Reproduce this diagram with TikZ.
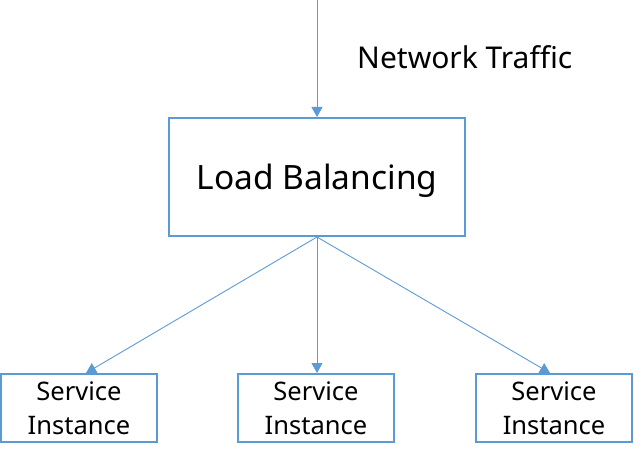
\documentclass[tikz,border=0pt]{standalone}
\usepackage{fontspec}
\setmainfont{Noto Sans}
\usetikzlibrary{arrows.meta}
\definecolor{lineblue}{HTML}{5B9BD5}
\begin{document}
\begin{tikzpicture}[x=1pt,y=-1pt,
  framestyle/.style={draw=lineblue,line width=2pt,inner sep=0pt,text=black},
  boxstyle/.style={framestyle,align=center},
  conn/.style={draw=lineblue,line width=0.9pt,-{Triangle[length=10pt,width=11pt]}}]
\useasboundingbox (0,0) rectangle (634,462);
\node[framestyle,minimum width=296pt,minimum height=118pt,text height=31pt,text depth=5pt,font=\fontsize{33.5pt}{38pt}\selectfont] (lb) at (317,177) {Load Balancing};
\node[boxstyle,minimum width=156pt,minimum height=68pt,font=\fontsize{25.5pt}{36pt}\selectfont] (s1) at (79,408) {\raisebox{-2pt}{Service}\\Instance};
\node[boxstyle,minimum width=156pt,minimum height=68pt,font=\fontsize{25.5pt}{36pt}\selectfont] (s2) at (316,408) {\raisebox{-2pt}{Service}\\Instance};
\node[boxstyle,minimum width=156pt,minimum height=68pt,font=\fontsize{25.5pt}{36pt}\selectfont] (s3) at (554,408) {\raisebox{-2pt}{Service}\\Instance};
\node[font=\fontsize{30pt}{34pt}\selectfont,anchor=west,inner sep=0pt] (nt) at (357,57) {Network Traffic};
\coordinate (top) at (317,0);
\draw[conn] (top) -- (lb.north);
\draw[conn] (lb.south) -- (s1.north -| 86,0);
\draw[conn] (lb.south) -- (s2.north -| lb.south);
\draw[conn] (lb.south) -- (s3.north -| 550,0);
\end{tikzpicture}
\end{document}
